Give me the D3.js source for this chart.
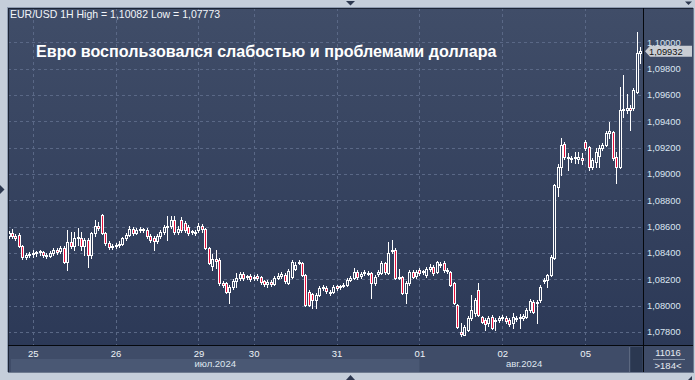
<!DOCTYPE html>
<html><head><meta charset="utf-8">
<script src="https://cdn.jsdelivr.net/npm/d3@7"></script>
<style>html,body{margin:0;padding:0;background:#c5ceda;} svg{display:block}</style>
</head><body><svg id="c" width="695" height="380"></svg>
<script>
// ---------- DATA ----------
const firstIndex = -7; // hourly bar index of first candle (0 = 25 Jul 00:00)
const open = [
1.08527,1.08550,1.08527,1.08535,1.08451,1.08368,1.08383,1.08391,1.08398,1.08406,
1.08406,1.08383,1.08375,1.08398,1.08421,1.08413,1.08436,1.08330,1.08482,1.08451,
1.08512,1.08512,1.08451,1.08497,1.08383,1.08550,1.08603,1.08687,1.08550,1.08474,
1.08444,1.08451,1.08459,1.08467,1.08512,1.08535,1.08581,1.08550,1.08573,1.08581,
1.08573,1.08527,1.08512,1.08489,1.08527,1.08558,1.08596,1.08603,1.08649,1.08558,
1.08649,1.08626,1.08596,1.08558,1.08558,1.08573,1.08603,1.08581,1.08436,1.08299,
1.08353,1.08345,1.08170,1.08170,1.08102,1.08140,1.08185,1.08208,1.08239,1.08216,
1.08223,1.08208,1.08223,1.08216,1.08185,1.08163,1.08178,1.08163,1.08208,1.08223,
1.08231,1.08170,1.08216,1.08277,1.08322,1.08322,1.08231,1.08102,1.08087,1.08041,
1.08079,1.08132,1.08132,1.08102,1.08102,1.08147,1.08140,1.08147,1.08155,1.08193,
1.08208,1.08254,1.08223,1.08246,1.08246,1.08246,1.08170,1.08239,1.08246,1.08322,
1.08246,1.08413,1.08421,1.08208,1.08216,1.08094,1.08170,1.08254,1.08223,1.08269,
1.08254,1.08231,1.08277,1.08292,1.08254,1.08315,1.08322,1.08269,1.08254,1.08170,
1.08003,1.07797,1.07775,1.07813,1.07904,1.07942,1.08117,1.07912,1.07889,1.07866,
1.07912,1.07881,1.07889,1.07904,1.07904,1.07889,1.07866,1.07904,1.07904,1.07904,
1.07912,1.07965,1.08026,1.08026,1.08041,1.08185,1.08193,1.08231,1.08360,1.08900,
1.09052,1.09227,1.09128,1.09120,1.09120,1.09113,1.09120,1.09242,1.09204,1.09052,
1.09090,1.09135,1.09196,1.09219,1.09310,1.09318,1.09128,1.09052,1.09485,1.09485,
1.09500,1.09500,1.09622,1.09918];
const high = [
1.08565,1.08581,1.08543,1.08550,1.08459,1.08398,1.08406,1.08421,1.08413,1.08421,
1.08413,1.08398,1.08413,1.08436,1.08436,1.08451,1.08451,1.08573,1.08558,1.08558,
1.08588,1.08558,1.08512,1.08512,1.08558,1.08649,1.08634,1.08695,1.08558,1.08489,
1.08467,1.08474,1.08489,1.08520,1.08550,1.08603,1.08596,1.08588,1.08596,1.08588,
1.08588,1.08543,1.08527,1.08543,1.08573,1.08611,1.08679,1.08679,1.08679,1.08603,
1.08672,1.08641,1.08611,1.08573,1.08573,1.08626,1.08619,1.08588,1.08444,1.08391,
1.08421,1.08360,1.08185,1.08178,1.08155,1.08201,1.08246,1.08254,1.08254,1.08231,
1.08239,1.08231,1.08239,1.08223,1.08193,1.08193,1.08193,1.08223,1.08246,1.08254,
1.08246,1.08277,1.08345,1.08330,1.08345,1.08330,1.08239,1.08117,1.08094,1.08094,
1.08147,1.08155,1.08147,1.08117,1.08155,1.08155,1.08155,1.08170,1.08208,1.08223,
1.08284,1.08269,1.08254,1.08269,1.08261,1.08254,1.08231,1.08269,1.08337,1.08330,
1.08482,1.08497,1.08436,1.08277,1.08223,1.08185,1.08269,1.08269,1.08269,1.08284,
1.08269,1.08292,1.08315,1.08307,1.08337,1.08330,1.08337,1.08284,1.08261,1.08178,
1.08011,1.07866,1.07851,1.07919,1.08079,1.08056,1.08170,1.07919,1.07904,1.07919,
1.07927,1.07904,1.07919,1.07927,1.07919,1.07904,1.07942,1.07919,1.07935,1.07935,
1.07980,1.08049,1.08041,1.08041,1.08155,1.08208,1.08239,1.08383,1.08923,1.09075,
1.09272,1.09242,1.09158,1.09135,1.09166,1.09166,1.09158,1.09257,1.09211,1.09120,
1.09196,1.09219,1.09234,1.09325,1.09394,1.09325,1.09166,1.09660,1.09751,1.09607,
1.09523,1.09652,1.10082,1.09964];
const low = [
1.08512,1.08512,1.08497,1.08444,1.08353,1.08353,1.08368,1.08368,1.08375,1.08383,
1.08368,1.08360,1.08368,1.08383,1.08391,1.08398,1.08322,1.08269,1.08436,1.08421,
1.08459,1.08421,1.08383,1.08292,1.08360,1.08527,1.08573,1.08543,1.08459,1.08429,
1.08429,1.08436,1.08444,1.08459,1.08497,1.08527,1.08535,1.08543,1.08558,1.08558,
1.08512,1.08482,1.08421,1.08474,1.08512,1.08543,1.08497,1.08588,1.08543,1.08543,
1.08558,1.08558,1.08535,1.08543,1.08535,1.08558,1.08558,1.08429,1.08315,1.08269,
1.08284,1.08155,1.08140,1.08094,1.08018,1.08125,1.08140,1.08193,1.08193,1.08201,
1.08185,1.08193,1.08193,1.08163,1.08147,1.08140,1.08147,1.08155,1.08201,1.08208,
1.08170,1.08163,1.08208,1.08269,1.08315,1.08223,1.07995,1.07995,1.07980,1.07980,
1.08071,1.08117,1.08094,1.08079,1.08094,1.08117,1.08125,1.08140,1.08147,1.08185,
1.08201,1.08201,1.08208,1.08231,1.08231,1.08056,1.08155,1.08223,1.08239,1.08239,
1.08239,1.08398,1.08201,1.08201,1.08087,1.08018,1.08155,1.08208,1.08208,1.08231,
1.08239,1.08216,1.08261,1.08231,1.08246,1.08292,1.08254,1.08246,1.08147,1.08011,
1.07828,1.07773,1.07775,1.07805,1.07889,1.07919,1.07919,1.07866,1.07813,1.07843,
1.07820,1.07813,1.07874,1.07889,1.07866,1.07843,1.07828,1.07881,1.07828,1.07889,
1.07904,1.07950,1.07942,1.07866,1.08026,1.08170,1.08140,1.08223,1.08353,1.08831,
1.08991,1.09113,1.09029,1.09090,1.09082,1.09082,1.09075,1.09181,1.09029,1.09037,
1.09052,1.09052,1.09181,1.09211,1.09272,1.09105,1.08930,1.09044,1.09432,1.09462,
1.09333,1.09485,1.09614,1.09842];
const close = [
1.08550,1.08527,1.08512,1.08451,1.08368,1.08383,1.08391,1.08398,1.08406,1.08413,
1.08383,1.08375,1.08398,1.08421,1.08406,1.08436,1.08330,1.08482,1.08451,1.08512,
1.08520,1.08451,1.08497,1.08383,1.08550,1.08603,1.08588,1.08550,1.08474,1.08444,
1.08451,1.08459,1.08467,1.08512,1.08535,1.08581,1.08550,1.08573,1.08581,1.08573,
1.08527,1.08497,1.08489,1.08527,1.08558,1.08596,1.08603,1.08649,1.08558,1.08581,
1.08573,1.08573,1.08550,1.08565,1.08550,1.08603,1.08581,1.08436,1.08322,1.08353,
1.08337,1.08170,1.08155,1.08102,1.08140,1.08185,1.08208,1.08239,1.08208,1.08223,
1.08201,1.08216,1.08208,1.08178,1.08163,1.08178,1.08163,1.08208,1.08223,1.08239,
1.08185,1.08261,1.08330,1.08307,1.08330,1.08231,1.08003,1.08003,1.08041,1.08079,
1.08132,1.08140,1.08109,1.08094,1.08140,1.08132,1.08147,1.08155,1.08193,1.08208,
1.08254,1.08216,1.08239,1.08254,1.08239,1.08170,1.08216,1.08254,1.08322,1.08254,
1.08398,1.08421,1.08208,1.08216,1.08094,1.08170,1.08254,1.08216,1.08254,1.08246,
1.08261,1.08277,1.08292,1.08246,1.08330,1.08307,1.08269,1.08261,1.08155,1.08018,
1.07836,1.07783,1.07836,1.07904,1.07965,1.08041,1.07927,1.07874,1.07859,1.07904,
1.07828,1.07889,1.07904,1.07912,1.07881,1.07859,1.07912,1.07897,1.07912,1.07919,
1.07965,1.08033,1.07950,1.08018,1.08140,1.08193,1.08231,1.08368,1.08915,1.09052,
1.09219,1.09128,1.09120,1.09113,1.09128,1.09128,1.09105,1.09196,1.09052,1.09105,
1.09166,1.09196,1.09219,1.09310,1.09325,1.09120,1.09052,1.09485,1.09493,1.09500,
1.09485,1.09637,1.09918,1.09932];
const dayLabels = ["25","26","29","30","31","01","02","05"];
const dayIndex  = [0, 24, 48, 64, 88, 112, 136, 160];
const monthLabels = ["июл.2024","авг.2024"];
const monthStart  = [-7, 112];
const yTicks = [1.078,1.080,1.082,1.084,1.086,1.088,1.090,1.092,1.094,1.096,1.098,1.100];
const titleText  = "Евро воспользовался слабостью и проблемами доллара";
const headerText = "EUR/USD 1H High = 1,10082 Low = 1,07773";
const lastPrice = 1.09932;
const infoTop = "11016";
const infoBottom = ">184<";

// ---------- LAYOUT ----------
const P = {l: 8, t: 8, r: 643, b: 345};
const axisR = 693, axisB = 372;
const svg = d3.select("#c");
const x = d3.scaleLinear().domain([-7, 176]).range([8.5, 640.4]);
const y = d3.scaleLinear().domain([1.078, 1.100]).range([332, 42.3]);
const fmt = v => d3.format(".5f")(v).replace(".", ",");
const font = "'Liberation Sans', Arial, sans-serif";

const defs = svg.append("defs");
const g1 = defs.append("linearGradient").attr("id","bg").attr("x1",0).attr("y1",0).attr("x2",0).attr("y2",1);
g1.append("stop").attr("offset","0%").attr("stop-color","#404d68");
g1.append("stop").attr("offset","100%").attr("stop-color","#2c3957");
defs.append("clipPath").attr("id","clip").append("rect")
  .attr("x",P.l).attr("y",P.t).attr("width",P.r-P.l).attr("height",P.b-P.t);

// outer frame
svg.append("rect").attr("width",695).attr("height",380).attr("fill","#c5ceda");
// plot + right axis background
svg.append("rect").attr("x",P.l).attr("y",P.t).attr("width",axisR-P.l).attr("height",P.b-P.t).attr("fill","url(#bg)");
// bottom axis strip
svg.append("rect").attr("x",P.l).attr("y",P.b).attr("width",axisR-P.l).attr("height",axisB-P.b).attr("fill","#3f4c68");
// month bands
monthStart.forEach((s,k)=>{
  const x0 = k===0 ? P.l+3 : x(s);
  const x1 = k+1<monthStart.length ? x(monthStart[k+1]) : 629;
  if (k===0) svg.append("rect").attr("x",x0).attr("y",359).attr("width",x1-x0).attr("height",axisB-359).attr("fill","#4a5874");
  svg.append("text").attr("x",(x0+x1)/2).attr("y",367).attr("text-anchor","middle")
    .attr("font-family",font).attr("font-size",9.5).attr("fill","#dfe6ef").text(monthLabels[k]);
});
// scroll block
svg.append("rect").attr("x",630.5).attr("y",347).attr("width",12).attr("height",25).attr("fill","#2b3851");
svg.append("line").attr("x1",629.5).attr("x2",629.5).attr("y1",347).attr("y2",372).attr("stroke","#5c6880");

// gridlines
const grid = svg.append("g").attr("stroke","#5a6886").attr("stroke-width",1).attr("stroke-dasharray","3,3");
yTicks.forEach(t=>{
  const yy = Math.round(y(t))+0.5;
  grid.append("line").attr("x1",P.l).attr("x2",P.r).attr("y1",yy).attr("y2",yy);
});
dayIndex.forEach(i=>{
  const xx = Math.round(x(i))+0.5;
  grid.append("line").attr("x1",xx).attr("x2",xx).attr("y1",P.t).attr("y2",P.b);
});

// header and title
svg.append("text").attr("x",10).attr("y",18).attr("font-family",font).attr("font-size",10.5)
  .attr("fill","#f2f5f9").text(headerText);
svg.append("text").attr("x",36).attr("y",57.3).attr("font-family",font).attr("font-size",16.1)
  .attr("font-weight","bold").attr("fill","#ffffff").text(titleText);

// candles
const data = open.map((o,k)=>({i:firstIndex+k, o, h:high[k], l:low[k], c:close[k]}));
const cg = svg.append("g").attr("clip-path","url(#clip)");
data.forEach(d=>{
  const cx = Math.round(x(d.i));
  const yh = Math.round(y(d.h)), yl = Math.round(y(d.l));
  const top = Math.round(y(Math.max(d.o,d.c))), bot = Math.round(y(Math.min(d.o,d.c)));
  cg.append("line").attr("x1",cx+0.5).attr("x2",cx+0.5).attr("y1",yh).attr("y2",yl+1)
    .attr("stroke","#ffffff").attr("stroke-width",1);
  if (bot - top < 1) {
    cg.append("rect").attr("x",cx-1).attr("y",top).attr("width",3).attr("height",1).attr("fill","#ffffff");
  } else {
    cg.append("rect").attr("x",cx-0.5).attr("y",top+0.5).attr("width",2).attr("height",bot-top)
      .attr("fill", d.c < d.o ? "#e8103c" : "#34415e").attr("stroke","#ffffff").attr("stroke-width",1);
  }
});

// borders
svg.append("line").attr("x1",P.l-1).attr("x2",axisR).attr("y1",P.t-0.5).attr("y2",P.t-0.5).attr("stroke","#8e9bb0");
svg.append("line").attr("x1",P.l).attr("x2",axisR).attr("y1",P.t+0.5).attr("y2",P.t+0.5).attr("stroke","#1c2435");
svg.append("line").attr("x1",P.l-0.5).attr("x2",P.l-0.5).attr("y1",P.t).attr("y2",axisB).attr("stroke","#8e9bb0");
svg.append("line").attr("x1",P.l+0.5).attr("x2",P.l+0.5).attr("y1",P.t).attr("y2",axisB).attr("stroke","#1c2435");
svg.append("line").attr("x1",P.r+0.5).attr("x2",P.r+0.5).attr("y1",P.t).attr("y2",axisB).attr("stroke","#05080d");
svg.append("line").attr("x1",P.l).attr("x2",axisR).attr("y1",P.b+0.5).attr("y2",P.b+0.5).attr("stroke","#05080d");
svg.append("line").attr("x1",axisR+0.5).attr("x2",axisR+0.5).attr("y1",P.t).attr("y2",axisB).attr("stroke","#6f7b90");
svg.append("line").attr("x1",P.l).attr("x2",axisR+1).attr("y1",axisB+0.5).attr("y2",axisB+0.5).attr("stroke","#6f7b90");

// y axis labels
const ya = svg.append("g").attr("font-family",font).attr("font-size",9.3).attr("fill","#dbe5f1");
yTicks.forEach(t=>{
  ya.append("text").attr("x",647).attr("y",y(t)+3.4).text(fmt(t));
});
// last price tag
const ly = y(lastPrice);
svg.append("path").attr("d",`M${P.r+2},${ly} L${P.r+7},${ly-5.5} L${axisR-1},${ly-5.5} L${axisR-1},${ly+5.5} L${P.r+7},${ly+5.5} Z`)
  .attr("fill","#c9cdd4");
svg.append("text").attr("x",649).attr("y",ly+3.4).attr("font-family",font).attr("font-size",9.3)
  .attr("fill","#111111").text(fmt(lastPrice));

// x axis day labels
const xa = svg.append("g").attr("font-family",font).attr("font-size",9.5).attr("fill","#eef2f7").attr("text-anchor","middle");
dayIndex.forEach((i,k)=>{
  xa.append("text").attr("x",x(i)+0.5).attr("y",357).text(dayLabels[k]);
});
// info panel
svg.append("text").attr("x",668).attr("y",356).attr("text-anchor","middle").attr("font-family",font)
  .attr("font-size",9.5).attr("fill","#e6ebf2").text(infoTop);
svg.append("line").attr("x1",653).attr("x2",685).attr("y1",359.5).attr("y2",359.5).attr("stroke","#8a96aa");
svg.append("text").attr("x",668).attr("y",368.5).attr("text-anchor","middle").attr("font-family",font)
  .attr("font-size",9.5).attr("fill","#e6ebf2").text(infoBottom);

// small navigation triangles
const tri = (pts)=>svg.append("path").attr("d","M"+pts.map(p=>p.join(",")).join("L")+"Z").attr("fill","#2d3850");
tri([[346,1],[355,1],[350.5,5.5]]);
tri([[346,380],[355,380],[350.5,375]]);
tri([[0,185],[0,194],[4.5,189.5]]);
tri([[685,1.5],[692,1.5],[688.5,5]]);
tri([[692,376],[692,380],[688,380]]);
</script></body></html>
